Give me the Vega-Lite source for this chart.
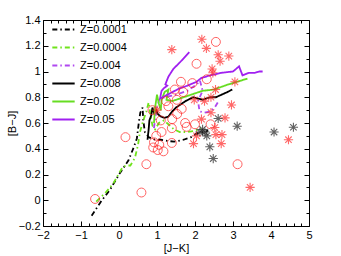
{
  "$schema": "https://vega.github.io/schema/vega-lite/v6.json",
  "width": 266,
  "height": 206,
  "autosize": "none",
  "padding": {"left": 43, "top": 20, "right": 32, "bottom": 30},
  "background": "white",
  "config": {
    "view": {"stroke": "black", "strokeWidth": 1},
    "font": "Liberation Sans",
    "axis": {
      "domain": false, "grid": false, "tickColor": "black", "labelColor": "black",
      "labelFontSize": 11, "labelFont": "Liberation Sans", "labelPadding": 8,
      "labelFlush": false, "labelOverlap": false, "labelBound": false,
      "titleFont": "Liberation Sans", "titleFontSize": 11, "titleFontWeight": "normal", "titleColor": "black"
    }
  },
  "datasets": {
    "lines": [
      {"series":"Z=0.0001","o":1,"x":-0.72,"y":-0.12},{"series":"Z=0.0001","o":2,"x":-0.45,"y":0.0},{"series":"Z=0.0001","o":3,"x":-0.24,"y":0.08},{"series":"Z=0.0001","o":4,"x":0.0,"y":0.2},{"series":"Z=0.0001","o":5,"x":0.25,"y":0.31},{"series":"Z=0.0001","o":6,"x":0.4,"y":0.42},{"series":"Z=0.0001","o":7,"x":0.47,"y":0.48},{"series":"Z=0.0001","o":8,"x":0.52,"y":0.6},{"series":"Z=0.0001","o":9,"x":0.56,"y":0.68},{"series":"Z=0.0001","o":10,"x":0.62,"y":0.72},{"series":"Z=0.0001","o":11,"x":0.64,"y":0.62},{"series":"Z=0.0001","o":12,"x":0.68,"y":0.53},{"series":"Z=0.0001","o":13,"x":0.78,"y":0.49},{"series":"Z=0.0001","o":14,"x":0.95,"y":0.47},{"series":"Z=0.0001","o":15,"x":1.1,"y":0.47},{"series":"Z=0.0001","o":16,"x":1.3,"y":0.46},{"series":"Z=0.0001","o":17,"x":1.45,"y":0.455},{"series":"Z=0.0001","o":18,"x":1.7,"y":0.47},{"series":"Z=0.0001","o":19,"x":1.9,"y":0.49},{"series":"Z=0.0001","o":20,"x":2.05,"y":0.52},{"series":"Z=0.0001","o":21,"x":2.2,"y":0.53},{"series":"Z=0.0001","o":22,"x":2.35,"y":0.54},
      {"series":"Z=0.0004","o":1,"x":-0.6,"y":-0.01},{"series":"Z=0.0004","o":2,"x":-0.35,"y":0.06},{"series":"Z=0.0004","o":3,"x":-0.15,"y":0.13},{"series":"Z=0.0004","o":4,"x":0.1,"y":0.26},{"series":"Z=0.0004","o":5,"x":0.2,"y":0.27},{"series":"Z=0.0004","o":6,"x":0.3,"y":0.27},{"series":"Z=0.0004","o":7,"x":0.42,"y":0.33},{"series":"Z=0.0004","o":8,"x":0.5,"y":0.43},{"series":"Z=0.0004","o":9,"x":0.55,"y":0.53},{"series":"Z=0.0004","o":10,"x":0.64,"y":0.62},{"series":"Z=0.0004","o":11,"x":0.72,"y":0.69},{"series":"Z=0.0004","o":12,"x":0.78,"y":0.76},{"series":"Z=0.0004","o":13,"x":0.82,"y":0.68},{"series":"Z=0.0004","o":14,"x":0.88,"y":0.58},{"series":"Z=0.0004","o":15,"x":0.95,"y":0.55},{"series":"Z=0.0004","o":16,"x":1.05,"y":0.6},{"series":"Z=0.0004","o":17,"x":1.18,"y":0.62},{"series":"Z=0.0004","o":18,"x":1.3,"y":0.59},{"series":"Z=0.0004","o":19,"x":1.45,"y":0.55},{"series":"Z=0.0004","o":20,"x":1.6,"y":0.53},{"series":"Z=0.0004","o":21,"x":1.8,"y":0.53},{"series":"Z=0.0004","o":22,"x":2.0,"y":0.54},{"series":"Z=0.0004","o":23,"x":2.15,"y":0.56},
      {"series":"Z=0.004","o":1,"x":0.92,"y":0.56},{"series":"Z=0.004","o":2,"x":0.96,"y":0.65},{"series":"Z=0.004","o":3,"x":1.0,"y":0.72},{"series":"Z=0.004","o":4,"x":1.06,"y":0.78},{"series":"Z=0.004","o":5,"x":1.2,"y":0.8},{"series":"Z=0.004","o":6,"x":1.5,"y":0.82},{"series":"Z=0.004","o":7,"x":1.8,"y":0.85},{"series":"Z=0.004","o":8,"x":2.05,"y":0.9},{"series":"Z=0.004","o":9,"x":2.13,"y":0.93},{"series":"Z=0.004","o":10,"x":2.2,"y":0.85},{"series":"Z=0.004","o":11,"x":2.08,"y":0.77},{"series":"Z=0.004","o":12,"x":2.12,"y":0.69},{"series":"Z=0.004","o":13,"x":2.25,"y":0.68},{"series":"Z=0.004","o":14,"x":2.4,"y":0.69},{"series":"Z=0.004","o":15,"x":2.52,"y":0.72},{"series":"Z=0.004","o":16,"x":2.62,"y":0.77},
      {"series":"Z=0.008","o":1,"x":0.75,"y":0.47},{"series":"Z=0.008","o":2,"x":0.78,"y":0.55},{"series":"Z=0.008","o":3,"x":0.8,"y":0.62},{"series":"Z=0.008","o":4,"x":0.85,"y":0.66},{"series":"Z=0.008","o":5,"x":0.88,"y":0.72},{"series":"Z=0.008","o":6,"x":0.92,"y":0.68},{"series":"Z=0.008","o":7,"x":0.98,"y":0.7},{"series":"Z=0.008","o":8,"x":1.02,"y":0.67},{"series":"Z=0.008","o":9,"x":1.1,"y":0.65},{"series":"Z=0.008","o":10,"x":1.2,"y":0.64},{"series":"Z=0.008","o":11,"x":1.3,"y":0.65},{"series":"Z=0.008","o":12,"x":1.4,"y":0.69},{"series":"Z=0.008","o":13,"x":1.5,"y":0.72},{"series":"Z=0.008","o":14,"x":1.6,"y":0.74},{"series":"Z=0.008","o":15,"x":1.75,"y":0.77},{"series":"Z=0.008","o":16,"x":1.95,"y":0.8},{"series":"Z=0.008","o":17,"x":2.2,"y":0.78},{"series":"Z=0.008","o":18,"x":2.39,"y":0.8},{"series":"Z=0.008","o":19,"x":2.55,"y":0.8},{"series":"Z=0.008","o":20,"x":2.7,"y":0.82},{"series":"Z=0.008","o":21,"x":2.85,"y":0.84},{"series":"Z=0.008","o":22,"x":2.98,"y":0.86},
      {"series":"Z=0.02","o":1,"x":0.92,"y":0.6},{"series":"Z=0.02","o":2,"x":0.95,"y":0.72},{"series":"Z=0.02","o":3,"x":1.0,"y":0.82},{"series":"Z=0.02","o":4,"x":1.05,"y":0.75},{"series":"Z=0.02","o":5,"x":1.1,"y":0.7},{"series":"Z=0.02","o":6,"x":1.12,"y":0.78},{"series":"Z=0.02","o":7,"x":1.2,"y":0.84},{"series":"Z=0.02","o":8,"x":1.3,"y":0.86},{"series":"Z=0.02","o":9,"x":1.25,"y":0.78},{"series":"Z=0.02","o":10,"x":1.4,"y":0.77},{"series":"Z=0.02","o":11,"x":1.6,"y":0.79},{"series":"Z=0.02","o":12,"x":1.8,"y":0.81},{"series":"Z=0.02","o":13,"x":2.0,"y":0.83},{"series":"Z=0.02","o":14,"x":2.2,"y":0.85},{"series":"Z=0.02","o":15,"x":2.5,"y":0.86},{"series":"Z=0.02","o":16,"x":2.83,"y":0.895},{"series":"Z=0.02","o":17,"x":3.05,"y":0.915},{"series":"Z=0.02","o":18,"x":3.38,"y":0.945},
      {"series":"Z=0.05","o":1,"x":1.85,"y":1.15},{"series":"Z=0.05","o":2,"x":1.6,"y":1.07},{"series":"Z=0.05","o":3,"x":1.43,"y":1.02},{"series":"Z=0.05","o":4,"x":1.3,"y":0.96},{"series":"Z=0.05","o":5,"x":1.22,"y":0.9},{"series":"Z=0.05","o":6,"x":1.27,"y":0.89},{"series":"Z=0.05","o":7,"x":1.18,"y":0.87},{"series":"Z=0.05","o":8,"x":1.12,"y":0.85},{"series":"Z=0.05","o":9,"x":1.08,"y":0.79},{"series":"Z=0.05","o":10,"x":1.15,"y":0.8},{"series":"Z=0.05","o":11,"x":1.34,"y":0.83},{"series":"Z=0.05","o":12,"x":1.6,"y":0.87},{"series":"Z=0.05","o":13,"x":1.8,"y":0.89},{"series":"Z=0.05","o":14,"x":2.04,"y":0.92},{"series":"Z=0.05","o":15,"x":2.17,"y":0.95},{"series":"Z=0.05","o":16,"x":2.4,"y":0.97},{"series":"Z=0.05","o":17,"x":2.7,"y":0.99},{"series":"Z=0.05","o":18,"x":3.0,"y":1.0},{"series":"Z=0.05","o":19,"x":3.16,"y":1.04},{"series":"Z=0.05","o":20,"x":3.25,"y":0.97},{"series":"Z=0.05","o":21,"x":3.42,"y":0.99},{"series":"Z=0.05","o":22,"x":3.58,"y":0.99},{"series":"Z=0.05","o":23,"x":3.7,"y":1.0},{"series":"Z=0.05","o":24,"x":3.78,"y":1.0}
    ],
    "circles": [
      {"x":-0.63,"y":0.01},{"x":0.17,"y":0.49},{"x":0.72,"y":0.28},{"x":0.59,"y":0.06},{"x":2.55,"y":1.23},{"x":2.04,"y":1.06},{"x":3.12,"y":0.28},
      {"x":1.63,"y":0.92},{"x":1.93,"y":0.91},{"x":1.69,"y":0.84},{"x":1.47,"y":0.86},{"x":1.52,"y":0.78},{"x":1.3,"y":0.73},{"x":1.24,"y":0.77},{"x":0.88,"y":0.7},{"x":1.53,"y":0.67},{"x":1.4,"y":0.63},{"x":1.78,"y":0.57},{"x":1.39,"y":0.56},{"x":1.12,"y":0.53},{"x":0.98,"y":0.5},{"x":0.92,"y":0.45},{"x":0.9,"y":0.41},{"x":1.06,"y":0.43},{"x":1.02,"y":0.39},{"x":1.17,"y":0.38},{"x":1.39,"y":0.445},{"x":2.0,"y":0.59},{"x":2.41,"y":0.59},{"x":2.31,"y":0.94},{"x":1.65,"y":0.71},{"x":1.1,"y":0.62},{"x":1.74,"y":0.6}
    ],
    "redstars": [
      {"x":1.39,"y":1.17},{"x":2.18,"y":1.25},{"x":2.3,"y":1.18},{"x":2.61,"y":1.13},{"x":2.66,"y":1.08},{"x":2.89,"y":1.12},{"x":2.45,"y":1.02},{"x":2.47,"y":0.99},{"x":3.05,"y":0.92},{"x":2.54,"y":0.86},{"x":1.98,"y":0.78},{"x":2.25,"y":0.77},{"x":2.42,"y":0.8},{"x":2.96,"y":0.74},{"x":2.42,"y":0.68},{"x":2.17,"y":0.63},{"x":2.79,"y":0.64},{"x":2.52,"y":0.565},{"x":2.04,"y":0.5},{"x":1.96,"y":0.44},{"x":2.55,"y":0.51},{"x":2.71,"y":0.51},{"x":2.69,"y":0.44},{"x":3.45,"y":0.1},{"x":4.46,"y":0.47},{"x":1.0,"y":0.7}
    ],
    "blackstars": [
      {"x":2.61,"y":0.635},{"x":3.11,"y":0.575},{"x":4.08,"y":0.53},{"x":4.59,"y":0.567},{"x":2.39,"y":0.415},{"x":2.48,"y":0.324},{"x":2.13,"y":0.53},{"x":2.2,"y":0.55},{"x":2.26,"y":0.53},{"x":2.31,"y":0.5}
    ]
  },
  "layer": [
    {
      "data": {"name": "lines"},
      "mark": {"type": "line", "strokeWidth": 1.8},
      "encoding": {
        "x": {"field": "x", "type": "quantitative", "scale": {"domain": [-2, 5], "nice": false, "zero": false},
          "axis": {"orient": "bottom", "title": "[J−K]", "titlePadding": 0, "format": "~g",
            "values": [-2,-1.8,-1.6,-1.4,-1.2,-1,-0.8,-0.6,-0.4,-0.2,0,0.2,0.4,0.6,0.8,1,1.2,1.4,1.6,1.8,2,2.2,2.4,2.6,2.8,3,3.2,3.4,3.6,3.8,4,4.2,4.4,4.6,4.8,5],
            "labelExpr": "abs(datum.value - round(datum.value)) < 0.001 ? datum.label : ''",
            "tickSize": {"condition": {"test": "abs(datum.value - round(datum.value)) < 0.001", "value": -5}, "value": -3}}},
        "y": {"field": "y", "type": "quantitative", "scale": {"domain": [-0.2, 1.4], "nice": false, "zero": false},
          "axis": {"orient": "left", "title": "[B−J]", "titlePadding": 1, "format": "~g",
            "values": [-0.2,-0.1,0,0.1,0.2,0.3,0.4,0.5,0.6,0.7,0.8,0.9,1,1.1,1.2,1.3,1.4],
            "labelExpr": "abs(datum.value*5 - round(datum.value*5)) < 0.001 ? datum.label : ''",
            "tickSize": {"condition": {"test": "abs(datum.value*5 - round(datum.value*5)) < 0.001", "value": -5}, "value": -3}}},
        "order": {"field": "o", "type": "quantitative"},
        "color": {"field": "series", "type": "nominal",
          "scale": {"domain": ["Z=0.0001","Z=0.0004","Z=0.004","Z=0.008","Z=0.02","Z=0.05"],
                    "range": ["#000000","#70e31c","#b048f0","#000000","#66dd22","#a020f0"]},
          "legend": {"title": null, "orient": "none", "legendX": 8, "legendY": -3, "padding": 0, "symbolType": "stroke", "symbolSize": 500, "symbolStrokeWidth": 2, "labelFontSize": 11, "labelFont": "Liberation Sans", "labelColor": "black", "labelOffset": 4, "rowPadding": 0}},
        "strokeDash": {"field": "series", "type": "nominal",
          "scale": {"domain": ["Z=0.0001","Z=0.0004","Z=0.004","Z=0.008","Z=0.02","Z=0.05"],
                    "range": [[5,3,1.5,3],[5,3,1.5,3],[5,3,1.5,3],[1,0],[1,0],[1,0]]},
          "legend": {"title": null, "orient": "none", "legendX": 8, "legendY": -3, "padding": 0, "symbolType": "stroke", "symbolSize": 500, "symbolStrokeWidth": 2, "labelFontSize": 11, "labelFont": "Liberation Sans", "labelColor": "black", "labelOffset": 4, "rowPadding": 0}}
      }
    },
    {
      "data": {"name": "circles"},
      "mark": {"type": "point", "shape": "circle", "filled": false, "stroke": "#ff2020", "strokeWidth": 1, "size": 80},
      "encoding": {
        "x": {"field": "x", "type": "quantitative",
          "axis": {"orient": "top", "title": null, "labels": false,
            "values": [-2,-1.8,-1.6,-1.4,-1.2,-1,-0.8,-0.6,-0.4,-0.2,0,0.2,0.4,0.6,0.8,1,1.2,1.4,1.6,1.8,2,2.2,2.4,2.6,2.8,3,3.2,3.4,3.6,3.8,4,4.2,4.4,4.6,4.8,5],
            "tickSize": {"condition": {"test": "abs(datum.value - round(datum.value)) < 0.001", "value": -5}, "value": -3}}},
        "y": {"field": "y", "type": "quantitative",
          "axis": {"orient": "right", "title": null, "labels": false,
            "values": [-0.2,-0.1,0,0.1,0.2,0.3,0.4,0.5,0.6,0.7,0.8,0.9,1,1.1,1.2,1.3,1.4],
            "tickSize": {"condition": {"test": "abs(datum.value*5 - round(datum.value*5)) < 0.001", "value": -5}, "value": -3}}}
      }
    },
    {
      "data": {"name": "redstars"},
      "mark": {"type": "point", "shape": "M-1,0L1,0M0,-1L0,1M-0.7,-0.7L0.7,0.7M-0.7,0.7L0.7,-0.7", "filled": false, "stroke": "#ff2a2a", "strokeWidth": 1.1, "size": 85},
      "encoding": {
        "x": {"field": "x", "type": "quantitative", "axis": null},
        "y": {"field": "y", "type": "quantitative", "axis": null}
      }
    },
    {
      "data": {"name": "blackstars"},
      "mark": {"type": "point", "shape": "M-1,0L1,0M0,-1L0,1M-0.7,-0.7L0.7,0.7M-0.7,0.7L0.7,-0.7", "filled": false, "stroke": "#222222", "strokeWidth": 1.1, "size": 85},
      "encoding": {
        "x": {"field": "x", "type": "quantitative", "axis": null},
        "y": {"field": "y", "type": "quantitative", "axis": null}
      }
    }
  ],
  "resolve": {"axis": {"x": "independent", "y": "independent"}}
}
